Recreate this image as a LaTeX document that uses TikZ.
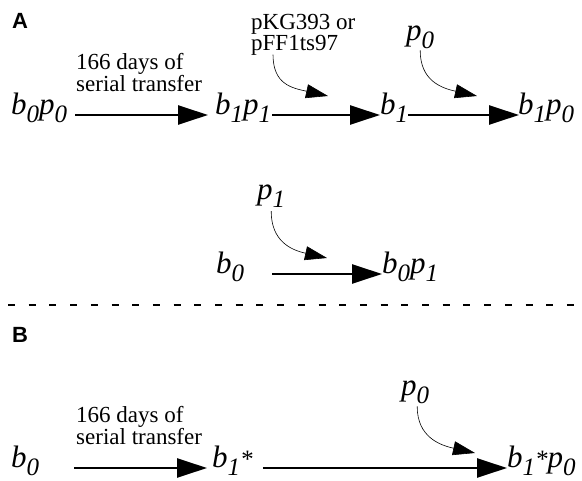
\documentclass[tikz,border=0pt]{standalone}
\usepackage{fontspec}
\setmainfont{Liberation Serif}
\newfontfamily\panelfont{Liberation Sans}
\usetikzlibrary{arrows.meta}

% lowered subscript and raised star for the strain labels
\newcommand\lowr[1]{\raisebox{-8pt}{\fontsize{25}{25}\selectfont #1}}
\newcommand\supstar{{\fontsize{25}{25}\selectfont *}}

\tikzset{
  lbl/.style={inner sep=0pt, anchor=base west, font=\fontsize{31}{31}\selectfont\itshape},
  note/.style={inner sep=0pt, anchor=north west, align=left, font=\fontsize{23}{21}\selectfont},
  panel/.style={inner sep=0pt, anchor=base west, font=\panelfont\bfseries\fontsize{22}{22}\selectfont},
  big/.style={line width=2.6pt, -{Triangle[length=30pt,width=19pt]}},
  thinarr/.style={line width=0.6pt, -{Triangle[length=22pt,width=14pt]}},
  sep/.style={line width=2pt, dash pattern=on 7pt off 13.7pt}
}

\begin{document}
\begin{tikzpicture}[x=1pt,y=-1pt]
\useasboundingbox (0,0) rectangle (582,481);

% ---------- panel A ----------
\node[panel] (A) at (12,29) {A};

\node[lbl] (b0p0) at (11,115) {b\lowr{0}p\lowr{0}};
\node[lbl] (b1p1) at (215,115) {b\lowr{1}p\lowr{1}};
\node[lbl] (b1)   at (380,115) {b\lowr{1}};
\node[lbl] (b1p0) at (518,115) {b\lowr{1}p\lowr{0}};

\node[note] (days1) at (76,53) {166 days of\\serial transfer};
\node[note] (pkg)   at (251,14) {pKG393 or\\pFF1ts97};
\node[lbl]  (p0a)   at (406,41) {p\lowr{0}};

\draw[big] ([xshift=8pt]b0p0.base east) -- ([xshift=-7pt]b1p1.base west);
\draw[big] ([xshift=1pt]b1p1.base east) -- ([xshift=0pt]b1.base west);
\draw[big] (b1.base east) -- ([xshift=1pt]b1p0.base west);

\coordinate (t1) at (328,96);
\coordinate (t2) at (477,96);
\draw[thinarr] ([xshift=22pt,yshift=1pt]pkg.south west) .. controls +(0,30) and +(-36,-8) .. (t1);
\draw[thinarr] ([yshift=-1pt]p0a.south) .. controls +(0,30) and +(-36,-8) .. (t2);

\node[lbl] (p1)   at (257,200) {p\lowr{1}};
\node[lbl] (b0)   at (216,274) {b\lowr{0}};
\node[lbl] (b0p1) at (382,274) {b\lowr{0}p\lowr{1}};

\coordinate (t3) at (327,258);
\draw[thinarr] ([yshift=-3pt]p1.south) .. controls +(0,30) and +(-36,-8) .. (t3);
\draw[big] ([xshift=28pt]b0.base east) -- ([xshift=0pt]b0p1.base west);

% ---------- separator ----------
\coordinate (sepL) at (8,305);
\coordinate (sepR) at (582,305);
\draw[sep] (sepL) -- (sepR);

% ---------- panel B ----------
\node[panel] (B) at (12,343) {B};

\node[lbl] (b0B)   at (11,468) {b\lowr{0}};
\node[note] (days2) at (76,406) {166 days of\\serial transfer};
\node[lbl] (b1s)   at (212,468) {b\lowr{1}\supstar};
\node[lbl] (b1sp0) at (507,468) {b\lowr{1}\supstar p\lowr{0}};
\node[lbl] (p0b)   at (401,396) {p\lowr{0}};

\draw[big] ([xshift=35pt]b0B.base east) -- ([xshift=-5pt]b1s.base west);
\draw[big] ([xshift=10pt]b1s.base east) -- ([xshift=0pt]b1sp0.base west);

\coordinate (t4) at (475,453);
\draw[thinarr] ([xshift=2pt,yshift=-2pt]p0b.south) .. controls +(0,30) and +(-36,-8) .. (t4);
\end{tikzpicture}
\end{document}
